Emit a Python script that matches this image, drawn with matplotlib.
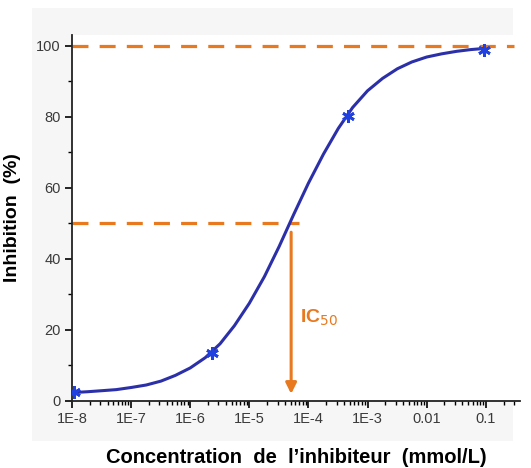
#!/usr/bin/env python3
"""Dose-response curve: inhibition (%) vs inhibitor concentration, with IC50 marked."""

import matplotlib
matplotlib.use("Agg")
import matplotlib.pyplot as plt
from matplotlib.patches import Rectangle
from matplotlib.ticker import FixedLocator, LogLocator, NullFormatter

plt.rcParams["font.family"] = ["Liberation Sans", "DejaVu Sans"]

# measured points
CONC = [1.1e-8, 2.3e-6, 4.6e-4, 0.093]
INHIB = [2.4, 13.5, 80.3, 98.9]

# fitted curve
FIT_CONC = [1.1e-8, 1.8e-8, 3.2e-8, 5.6e-8, 1e-7, 1.8e-7, 3.2e-7, 5.6e-7, 1e-6,
            1.8e-6, 3.2e-6, 5.6e-6, 1e-5, 1.8e-5, 3.2e-5, 5.6e-5, 1e-4, 1.8e-4,
            3.2e-4, 5.6e-4, 1e-3, 1.8e-3, 3.2e-3, 5.6e-3, 0.01, 0.018, 0.032,
            0.056, 0.093]
FIT_INHIB = [2.4, 2.6, 2.9, 3.2, 3.8, 4.5, 5.6, 7.2, 9.3, 12.2, 16.1, 21.2,
             27.5, 35.0, 43.5, 52.4, 61.3, 69.5, 76.7, 82.6, 87.3, 90.8, 93.5,
             95.4, 96.8, 97.7, 98.4, 98.9, 99.2]

IC50 = 5.1e-5
TOP = 100
HALF = 50

XTICKS = [1e-8, 1e-7, 1e-6, 1e-5, 1e-4, 1e-3, 0.01, 0.1]
XTICK_LABELS = ["1E-8", "1E-7", "1E-6", "1E-5", "1E-4", "1E-3", "0.01", "0.1"]
YTICKS = [0, 20, 40, 60, 80, 100]

ORANGE = "#e8791e"
CURVE_BLUE = "#2c30a8"
MARK_BLUE = "#2040e0"
TICK_TEXT = "#3a3a3a"


def main():
    fig = plt.figure(figsize=(5.31, 4.68), dpi=100)
    fig.patch.set_facecolor("white")
    fig.patches.append(Rectangle((32 / 531, 1 - 441 / 468), 481 / 531, 433 / 468,
                                 transform=fig.transFigure, facecolor="#f6f6f6",
                                 edgecolor="none", zorder=-10))

    ax = fig.add_axes([72 / 531, 1 - 401 / 468, 448 / 531, 366 / 468])
    ax.set_zorder(1)
    ax.set_facecolor("white")
    ax.set_xscale("log")
    ax.set_xlim(1e-8, 0.38)
    ax.set_ylim(0, 103)

    ax.plot(FIT_CONC, FIT_INHIB, color=CURVE_BLUE, linewidth=2.2, zorder=3,
            solid_joinstyle="round")
    ax.plot(CONC, INHIB, linestyle="none", marker=(6, 2, 0), markersize=9,
            markeredgewidth=2, color=MARK_BLUE, zorder=4)

    ax.plot([1e-8, 0.3], [TOP, TOP], color=ORANGE, linewidth=2.3,
            dashes=(5, 3.5), zorder=2)
    ax.plot([1e-8, 7e-5], [HALF, HALF], color=ORANGE, linewidth=2.3,
            dashes=(5, 3.5), zorder=2)
    ax.annotate("", xy=(IC50, 2.0), xytext=(IC50, 47.5),
                arrowprops=dict(arrowstyle="-|>", color=ORANGE, lw=2.2,
                                mutation_scale=16, shrinkA=0, shrinkB=0),
                zorder=5)
    ax.text(7.2e-5, 23.5, r"IC$_{50}$", color=ORANGE, fontsize=14,
            fontweight="bold", va="center", ha="left")

    ax.xaxis.set_major_locator(FixedLocator(XTICKS))
    ax.set_xticklabels(XTICK_LABELS)
    ax.xaxis.set_minor_locator(LogLocator(base=10, subs=range(2, 10), numticks=20))
    ax.xaxis.set_minor_formatter(NullFormatter())
    ax.set_yticks(YTICKS)
    ax.yaxis.set_minor_locator(FixedLocator([10, 30, 50, 70, 90]))

    ax.tick_params(axis="both", which="major", direction="out", length=5,
                   width=1.2, labelsize=10.5, labelcolor=TICK_TEXT, pad=3)
    ax.tick_params(axis="both", which="minor", direction="out", length=3, width=1)

    for side in ("top", "right"):
        ax.spines[side].set_visible(False)
    for side in ("left", "bottom"):
        ax.spines[side].set_linewidth(1.3)
        ax.spines[side].set_color("#222222")

    ax.set_xlabel("Concentration  de  l\u2019inhibiteur  (mmol/L)", fontsize=14.5,
                  fontweight="bold", labelpad=16)
    ax.set_ylabel("Inhibition  (%)", fontsize=14, fontweight="bold", labelpad=11)

    fig.savefig("out.png", dpi=100, facecolor=fig.get_facecolor())


if __name__ == "__main__":
    main()
